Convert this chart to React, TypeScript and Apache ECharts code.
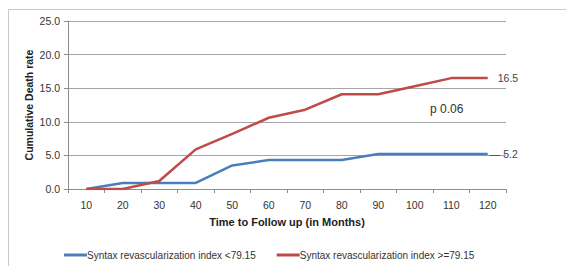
import React, { useEffect, useRef } from "react";
import * as echarts from "echarts";

const categories = ["10", "20", "30", "40", "50", "60", "70", "80", "90", "100", "110", "120"];
const lowIndex = [0, 0.9, 0.9, 0.9, 3.5, 4.3, 4.3, 4.3, 5.2, 5.2, 5.2, 5.2];
const highIndex = [0, 0, 1.2, 5.9, 8.2, 10.6, 11.8, 14.1, 14.1, 15.3, 16.5, 16.5];
const seriesNames = ["Syntax revascularization index <79.15", "Syntax revascularization index >=79.15"];
const pText = "p 0.06";

const FONT = "Liberation Sans";

export default function App() {
  const ref = useRef<HTMLDivElement>(null);
  useEffect(() => {
    document.body.style.margin = "0";
    const chart = echarts.init(ref.current!, null, { renderer: "svg" });
    chart.setOption({
      animation: false,
      backgroundColor: "#ffffff",
      textStyle: { fontFamily: FONT },
      grid: { left: 68, right: 60, top: 21, bottom: 77 },
      legend: {
        left: 59,
        top: 245,
        icon: "rect",
        itemWidth: 23,
        itemHeight: 3,
        itemGap: 21,
        textStyle: { fontSize: 10, color: "#333", fontFamily: FONT, padding: [0, 0, 0, -5] },
        data: seriesNames,
      },
      xAxis: {
        type: "category",
        data: categories,
        boundaryGap: true,
        name: "Time to Follow up (in Months)",
        nameLocation: "middle",
        nameGap: 27,
        nameMoveOverlap: false,
        nameTextStyle: { fontSize: 11, fontWeight: "bold", color: "#222", fontFamily: FONT },
        axisLine: { lineStyle: { color: "#8c8c8c", width: 1 } },
        axisTick: { show: true, length: 4, lineStyle: { color: "#8c8c8c" } },
        axisLabel: { fontSize: 10.5, color: "#333", margin: 10 },
        splitLine: { show: false },
      },
      yAxis: {
        type: "value",
        min: 0,
        max: 25,
        interval: 5,
        name: "Cumulative Death rate",
        nameLocation: "middle",
        nameGap: 34,
        nameMoveOverlap: false,
        nameTextStyle: { fontSize: 10.5, fontWeight: "bold", color: "#222", fontFamily: FONT },
        axisLine: { show: true, lineStyle: { color: "#8c8c8c", width: 1 } },
        axisTick: { show: true, length: 4, lineStyle: { color: "#8c8c8c" } },
        axisLabel: { fontSize: 10.5, color: "#333", margin: 8, formatter: (v: number) => v.toFixed(1) },
        splitLine: { show: true, lineStyle: { color: "#a6a6a6", width: 1 } },
      },
      graphic: [
        {
          type: "rect",
          silent: true,
          shape: { x: 8.5, y: 9.5, width: 600, height: 300 },
          style: { fill: "none", stroke: "#c8c8c8", lineWidth: 1 },
        },
        {
          type: "text",
          left: 430,
          top: 103,
          style: { text: pText, fontSize: 12, fill: "#333", fontFamily: FONT },
        },
      ],
      series: [
        {
          name: seriesNames[0],
          type: "line",
          data: lowIndex,
          showSymbol: false,
          symbol: "none",
          color: "#4a7ebb",
          lineStyle: { width: 2.5, color: "#4a7ebb" },
          endLabel: { show: true, formatter: (p: any) => "— " + String(p.value), fontSize: 10.5, color: "#444", distance: 2 },
        },
        {
          name: seriesNames[1],
          type: "line",
          data: highIndex,
          showSymbol: false,
          symbol: "none",
          color: "#be4b48",
          lineStyle: { width: 2.5, color: "#be4b48" },
          endLabel: { show: true, formatter: (p: any) => String(p.value), fontSize: 10.5, color: "#444", distance: 10 },
        },
      ],
    });
    return () => chart.dispose();
  }, []);
  return <div ref={ref} style={{ width: 566, height: 266 }} />;
}
